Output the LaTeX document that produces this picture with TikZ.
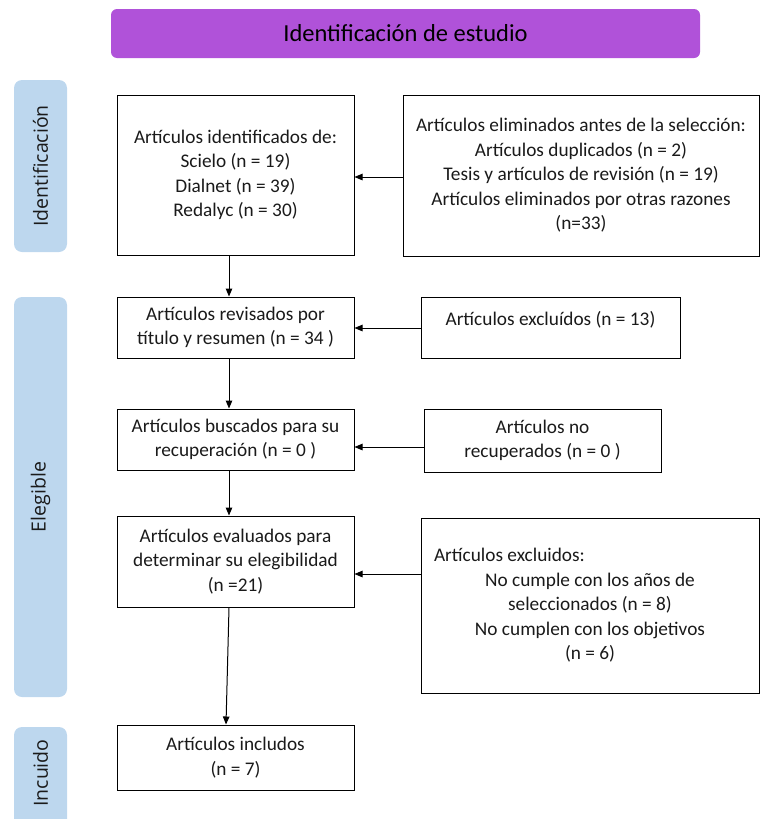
\documentclass[tikz,border=0pt]{standalone}
\usepackage{fontspec}
\setmainfont{Carlito}
\newfontfamily\sidefont{Open Sans}
\usetikzlibrary{arrows.meta}
\definecolor{titlepurple}{HTML}{B052D9}
\definecolor{sideblue}{HTML}{BDD7EE}
\definecolor{txt}{HTML}{1A1A1A}
\begin{document}
\begin{tikzpicture}[x=1pt,y=-1pt,
  box/.style={draw=black, line width=1pt, align=center, font=\fontsize{19.3}{24.5}\selectfont, text=txt, inner sep=0pt},
  side/.style={fill=sideblue, rounded corners=8pt, rotate=90, inner sep=0pt, font=\sidefont\fontsize{19.5}{23}\selectfont, text=txt},
  sidelabel/.style={rotate=90, font=\sidefont\fontsize{19.5}{23}\selectfont, text=txt},
  arr/.style={-{Triangle[length=8pt,width=6.5pt]}, line width=1pt}]
\useasboundingbox (0,0) rectangle (761,819);
\clip (0,0) rectangle (761,819);

% title
\node[fill=titlepurple, rounded corners=6pt, minimum width=589pt, minimum height=49pt, inner sep=0pt,
  font=\fontsize{24.5}{28}\selectfont, text=black] (T) at (405.5,33.5) {Identificación de estudio};

% side bars
\node[side, minimum width=172pt, minimum height=53pt] (S1) at (40.5,166) {Identificación};
\node[side, minimum width=400pt, minimum height=53pt] (S2) at (40.5,497) {Elegible};
\fill[sideblue, rounded corners=8pt] (14,727) rectangle (67,840);
\node[sidelabel] (S3) at (40.5,773) {Incuido};

% boxes
\node[box, minimum width=237pt, minimum height=160pt] (A) at (235.5,175)
  {Artículos identificados de:\\Scielo (n = 19)\\Dialnet (n = 39)\\Redalyc (n = 30)};
\node[box, minimum width=356pt, minimum height=161pt] (B) at (581,175.5)
  {Artículos eliminados antes de la selección:\\Artículos duplicados (n = 2)\\Tesis y artículos de revisión (n = 19)\\Artículos eliminados por otras razones\\(n=33)};
\node[box, minimum width=237pt, minimum height=61pt] (C) at (235.5,327.5)
  {Artículos revisados por\\título y resumen (n = 34 )};
\node[box, minimum width=259pt, minimum height=61pt, text height=13pt, text depth=17pt] (D) at (550.5,327.5)
  {Artículos excluídos (n = 13)};
\node[box, minimum width=237pt, minimum height=61pt] (E) at (235.5,439.5)
  {Artículos buscados para su\\recuperación (n = 0 )};
\node[box, minimum width=237pt, minimum height=63pt] (F) at (542.5,440.5)
  {Artículos no\\recuperados (n = 0 )};
\node[box, minimum width=237pt, minimum height=91pt] (G) at (235.5,561.5)
  {Artículos evaluados para\\determinar su elegibilidad\\(n =21)};
\node[box, minimum width=338pt, minimum height=175pt] (H) at (590,605.5)
  {\makebox[312pt][l]{Artículos excluidos:}\\No cumple con los años de\\seleccionados (n = 8)\\No cumplen con los objetivos\\(n = 6)};
\node[box, minimum width=237pt, minimum height=65pt] (I) at (235.5,757.5)
  {Artículos includos\\(n = 7)};

% vertical arrows
\draw[arr] ([xshift=-6.5pt]A.south) -- ([xshift=-6.5pt]C.north);
\draw[arr] ([xshift=-6.5pt]C.south) -- ([xshift=-6.5pt]E.north);
\draw[arr] ([xshift=-6.5pt]E.south) -- ([xshift=-6.5pt]G.north);
\draw[arr] ([xshift=-6.5pt]G.south) -- ([xshift=-9.5pt]I.north);

% horizontal arrows
\draw[arr] ([yshift=-1.5pt]B.west) -- ([yshift=-1.5pt]B.west -| A.east);
\draw[arr] ([yshift=-0.5pt]D.west) -- ([yshift=-0.5pt]D.west -| C.east);
\draw[arr] ([yshift=-6.5pt]F.west) -- ([yshift=-6.5pt]F.west -| E.east);
\draw[arr] ([yshift=31.5pt]H.west) -- ([yshift=31.5pt]H.west -| G.east);
\end{tikzpicture}
\end{document}
